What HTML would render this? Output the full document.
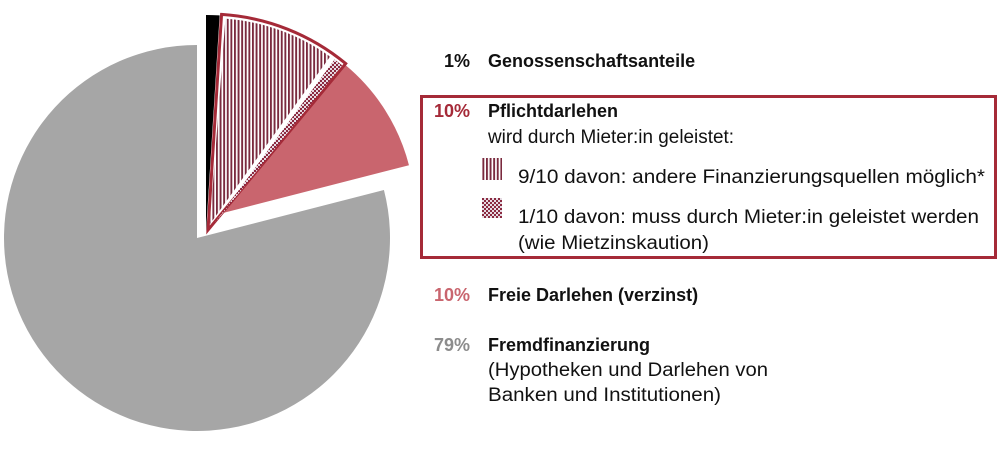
<!DOCTYPE html>
<html><head><meta charset="utf-8"><style>
html,body{margin:0;padding:0;background:#fff;}
body{width:1000px;height:453px;position:relative;overflow:hidden;font-family:"Liberation Sans",sans-serif;}
svg{position:absolute;left:0;top:0;}
</style></head><body>
<svg id="chart" width="1000" height="453">
<defs>
<pattern id="vstripe" width="3.6" height="4" patternUnits="userSpaceOnUse"><rect width="3.6" height="4" fill="#fff"/><rect width="1.9" height="4" fill="#7a2a3e"/></pattern>
<pattern id="checker" width="4" height="4" patternUnits="userSpaceOnUse"><rect width="4" height="4" fill="#e6dbe3"/><rect width="2" height="2" fill="#8a2a40"/><rect x="2" y="2" width="2" height="2" fill="#8a2a40"/></pattern>
</defs>
<g id="slices"></g>
<g font-size="18" fill="#111">
<text x="470" y="67" text-anchor="end" font-weight="bold">1%</text>
<text x="488" y="67" font-weight="bold">Genossenschaftsanteile</text>
<rect x="421.5" y="96.5" width="574" height="161" fill="none" stroke="#a52a38" stroke-width="3"/>
<text x="470" y="117" text-anchor="end" font-weight="bold" fill="#a52a38">10%</text>
<text x="488" y="117" font-weight="bold">Pflichtdarlehen</text>
<text x="488" y="143" font-size="19" textLength="246" lengthAdjust="spacingAndGlyphs">wird durch Mieter:in geleistet:</text>
<rect x="482" y="158" width="20" height="22" fill="url(#vstripe)"/>
<text x="518" y="183" font-size="19" textLength="467" lengthAdjust="spacingAndGlyphs">9/10 davon: andere Finanzierungsquellen möglich*</text>
<rect x="482" y="198" width="20" height="20" fill="url(#checker)"/>
<text x="518" y="223" font-size="19" textLength="461" lengthAdjust="spacingAndGlyphs">1/10 davon: muss durch Mieter:in geleistet werden</text>
<text x="518" y="249" font-size="19" textLength="191" lengthAdjust="spacingAndGlyphs">(wie Mietzinskaution)</text>
<text x="470" y="301" text-anchor="end" font-weight="bold" fill="#c9656e">10%</text>
<text x="488" y="301" font-weight="bold">Freie Darlehen (verzinst)</text>
<text x="470" y="351" text-anchor="end" font-weight="bold" fill="#8c8c8c">79%</text>
<text x="488" y="351" font-weight="bold">Fremdfinanzierung</text>
<text x="488" y="376" font-size="19" textLength="280" lengthAdjust="spacingAndGlyphs">(Hypotheken und Darlehen von</text>
<text x="488" y="401" font-size="19" textLength="233" lengthAdjust="spacingAndGlyphs">Banken und Institutionen)</text>
</g>
</svg>
<script>
const categories = ["Genossenschaftsanteile","Pflichtdarlehen andere","Pflichtdarlehen Mieter","Freie Darlehen","Fremdfinanzierung"];
const shares = [1, 9, 1, 10, 79];
const NS="http://www.w3.org/2000/svg";
const total = shares.reduce((a,b)=>a+b,0);
function angle(v){return v/total*2*Math.PI;}
function pt(cx,cy,r,a){return [cx+r*Math.sin(a), cy-r*Math.cos(a)];}
function arcPath(cx,cy,r,a0,a1){
  const p0=pt(cx,cy,r,a0),p1=pt(cx,cy,r,a1);
  const large=(a1-a0)>Math.PI?1:0;
  return `M${cx},${cy}L${p0[0]},${p0[1]}A${r},${r} 0 ${large} 1 ${p1[0]},${p1[1]}Z`;
}
const g=document.getElementById('slices');
const cum=[0];shares.forEach(s=>cum.push(cum[cum.length-1]+s));
const a=cum.map(angle);
function add(d,fill,stroke,sw,name){
  const p=document.createElementNS(NS,'path');
  p.setAttribute('d',d);p.setAttribute('fill',fill);
  if(stroke){p.setAttribute('stroke',stroke);p.setAttribute('stroke-width',sw);p.setAttribute('stroke-linejoin','miter');}
  
  
  g.appendChild(p);
}
add(arcPath(197,238,193,a[4],a[5]),'#a6a6a6',null,0,'slice-fremdfinanzierung');
add(arcPath(223,213,192,a[3],a[4]),'#c9656e',null,0,'slice-freie-darlehen');
add(arcPath(206,232,217,a[0],a[1]),'#000',null,0,'slice-genossenschaft');
add(arcPath(208,230,216,a[1],a[3]),'#fff','#a52a38',3,'slice-pflicht-outline');
add(arcPath(210,224,206,a[1]+0.012,a[2]-0.006),'url(#vstripe)',null,0,'slice-pflicht-stripes');
add(arcPath(214,224,204,a[2]+0.004,a[3]-0.012),'url(#checker)',null,0,'slice-pflicht-checker');
</script>
</body></html>
